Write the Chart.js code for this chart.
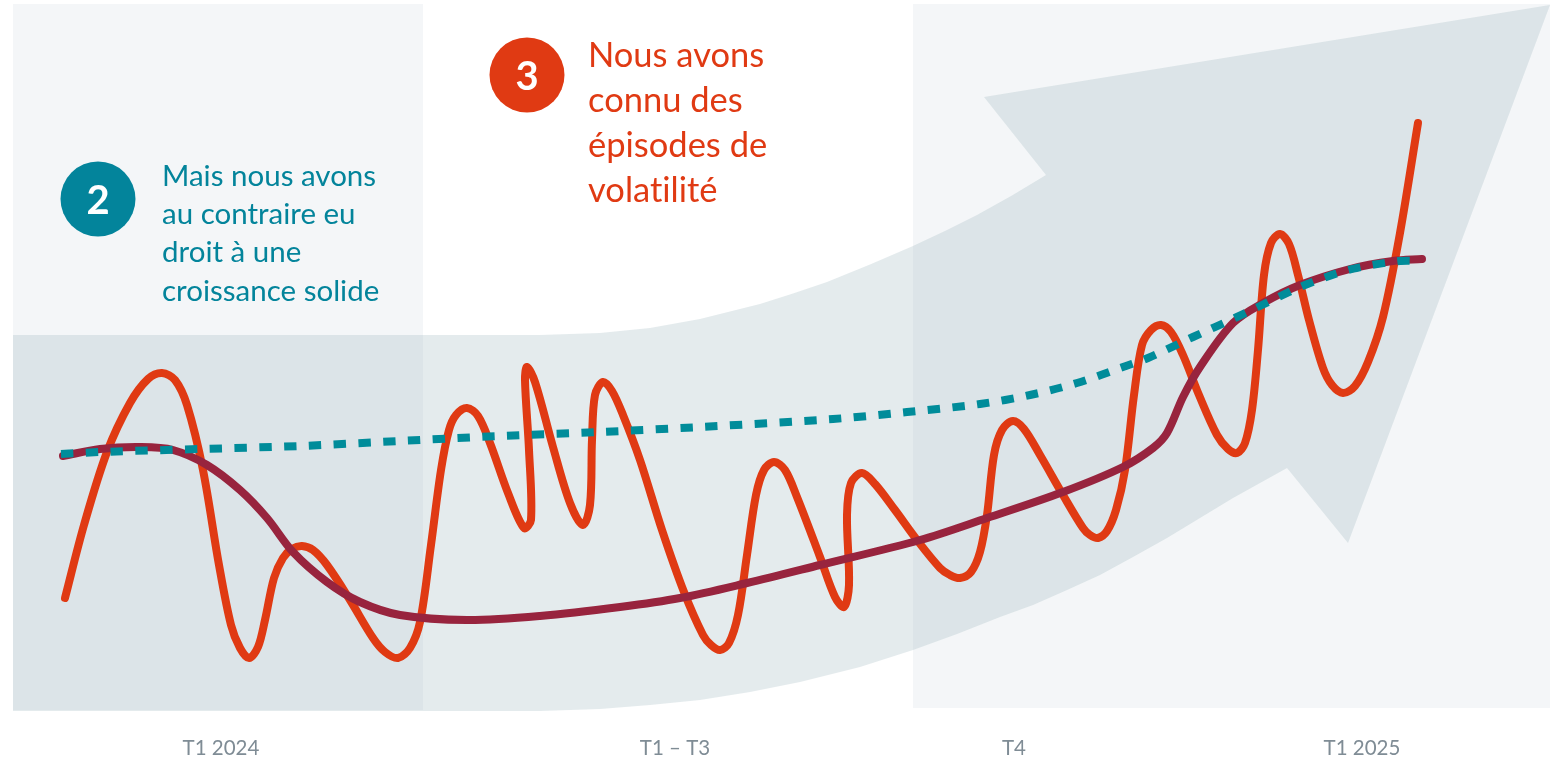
<!DOCTYPE html>
<html lang="fr">
<head>
<meta charset="utf-8">
<title>Croissance et volatilité</title>
<script src="https://cdn.jsdelivr.net/npm/chart.js@4"></script>
<style>
    html, body { margin: 0; padding: 0; background: #fff; }
    #wrap { position: relative; width: 1562px; height: 760px; overflow: hidden; font-family: Lato, sans-serif; font-variant-ligatures: none; }
    #chart { position: absolute; left: 0; top: 0; }
    .note { position: absolute; white-space: pre; }
    .teal { left: 162px; top: 156px; font-size: 29.5px; line-height: 38.2px; color: #03849b; }
    .red { left: 588px; top: 31px; font-size: 34.5px; line-height: 45px; color: #e03a13; }
    .num { width: 76px; text-align: center; color: #fff; font-weight: 700; font-size: 40px; line-height: 48px; }
</style>
</head>
<body>
<div id="wrap">
    <canvas id="chart" width="1562" height="760"></canvas>
    <div class="note num" style="left:60px;top:175px">2</div>
    <div class="note num" style="left:489px;top:51px">3</div>
    <div class="note teal">Mais nous avons
au contraire eu
droit à une
croissance solide</div>
    <div class="note red">Nous avons
connu des
épisodes de
volatilité</div>
</div>
<script>
const tickValues = [221, 675, 1014, 1362];
const tickLabels = ['T1 2024', 'T1 – T3', 'T4', 'T1 2025'];

const volatile = [[65,598],[84,525],[107,452],[130,403],[148,379],[162,373],[175,380],[187,405],[203,470],[219,565],[231,625],[240,648],[249,658],[258,647],[265,620],[274,578],[283,558],[292,549],[302,546],[313,550],[327,565],[350,600],[373,638],[385,652],[398,658],[410,648],[420,622],[431,545],[441,470],[449,430],[456,415],[467,408],[478,416],[490,443],[508,493],[524,528],[531,520],[529,450],[525,380],[527,367],[535,382],[553,447],[570,503],[583,525],[590,505],[592,440],[595,395],[603,382],[612,391],[623,415],[640,460],[662,530],[684,592],[703,635],[711,645],[720,650],[729,643],[738,615],[747,555],[756,495],[764,470],[774,462],[785,470],[797,497],[820,557],[835,597],[844,607],[849,585],[847,515],[851,483],[862,473],[875,484],[895,510],[917,540],[940,568],[950,575],[960,578],[971,572],[980,552],[987,515],[994,455],[1002,430],[1013,421],[1024,429],[1040,455],[1063,495],[1083,528],[1090,535],[1098,538],[1107,531],[1116,510],[1125,470],[1134,395],[1142,345],[1151,330],[1161,325],[1171,332],[1183,355],[1199,395],[1217,435],[1228,449],[1237,453],[1245,443],[1252,410],[1258,350],[1264,275],[1271,243],[1280,234],[1289,244],[1298,275],[1309,320],[1323,368],[1332,385],[1343,393],[1355,386],[1368,362],[1383,317],[1400,233],[1418,123]];

const trend = [[63,456],[100,449],[140,447],[173,450],[207,465],[240,490],[267,518],[293,552],[327,582],[360,602],[400,615],[467,620],[540,616],[620,607],[680,598],[747,583],[820,565],[920,540],[987,518],[1063,492],[1123,467],[1153,448],[1167,433],[1183,397],[1200,367],[1233,323],[1263,303],[1300,285],[1350,269],[1393,261],[1422,259]];

const expected = [[61,454],[100,452],[200,449],[300,446],[400,441],[500,436],[600,432],[700,427],[833,419],[907,412],[980,404],[1030,395],[1077,383],[1123,367],[1148,358],[1193,337],[1237,317],[1260,306],[1305,285],[1352,269],[1400,261],[1421,261]];

const arrowShape = [[13,335],[540,335],[600,333],[650,328],[700,319],[760,304],[793,293.5],[827,282],[870,264.5],[913,246],[945,231],[977,215],[1012,195.5],[1046,175],[984,97],[1550,5],[1348,543],[1287,468],[1260,483],[1233,498],[1200,518],[1167,538],[1133,557],[1100,575],[1067,590],[1033,605],[1000,617],[957,634],[913,650],[860,667],[800,682],[750,692],[700,700],[650,705],[600,709],[540,711],[13,711]];
const leftPanel = [[13,4],[423,4],[423,710],[13,710]];
const rightPanel = [[913,4],[1550,4],[1550,708],[913,708]];
const badge2 = [[98,199]];
const badge3 = [[527,75]];

const toPoints = list => list.map(p => ({x: p[0], y: p[1]}));

const lineSet = (data, color, width, order, extra) => Object.assign({
    data: toPoints(data),
    showLine: true,
    borderColor: color,
    borderWidth: width,
    pointRadius: 0,
    tension: 0.33,
    fill: false,
    order: order
}, extra);

const shapeSet = (data, color, order) => ({
    data: toPoints(data),
    showLine: true,
    borderWidth: 0,
    borderColor: 'transparent',
    backgroundColor: color,
    pointRadius: 0,
    tension: 0,
    fill: 'shape',
    order: order
});

const badgeSet = (data, color, order) => ({
    data: toPoints(data),
    showLine: false,
    pointRadius: 37.5,
    pointBackgroundColor: color,
    pointBorderWidth: 0,
    order: order
});

new Chart(document.getElementById('chart'), {
    type: 'scatter',
    data: {
        datasets: [
            badgeSet(badge2, '#03849b', 1),
            badgeSet(badge3, '#e03a13', 1),
            lineSet(expected, '#008c9a', 8, 2, {borderDash: [12.4, 12.4]}),
            lineSet(trend, '#98243e', 8, 3, {borderCapStyle: 'round'}),
            lineSet(volatile, '#e03a13', 8, 4, {borderCapStyle: 'round', borderJoinStyle: 'round'}),
            shapeSet(arrowShape, 'rgba(147,175,183,0.25)', 5),
            shapeSet(leftPanel, '#f4f6f8', 6),
            shapeSet(rightPanel, '#f4f6f8', 6)
        ]
    },
    options: {
        responsive: false,
        animation: false,
        layout: {padding: 0, autoPadding: false},
        plugins: {
            legend: {display: false},
            tooltip: {enabled: false}
        },
        scales: {
            x: {
                type: 'linear',
                min: 0,
                max: 1562,
                afterBuildTicks: scale => { scale.ticks = tickValues.map(v => ({value: v})); },
                afterFit: scale => { scale.height = 30; },
                grid: {display: false, drawTicks: false},
                border: {display: false},
                ticks: {
                    autoSkip: false,
                    maxRotation: 0,
                    padding: 6,
                    color: '#7f8c95',
                    font: {family: 'Lato', size: 20.5},
                    callback: (value, index) => tickLabels[index]
                }
            },
            y: {
                display: false,
                min: 0,
                max: 730,
                reverse: true
            }
        }
    }
});
</script>
</body>
</html>
